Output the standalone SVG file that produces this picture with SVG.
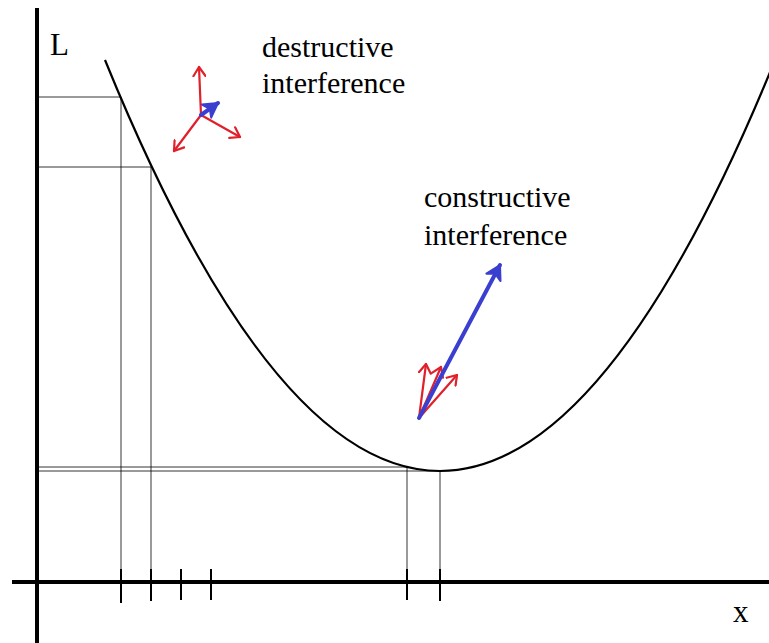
<svg xmlns="http://www.w3.org/2000/svg" width="769" height="643" viewBox="0 0 769 643">
<style>
.axis{stroke:#000;stroke-width:4;fill:none}
.tick{stroke:#000;stroke-width:2;fill:none}
.thin{stroke:#000;stroke-width:0.8;fill:none}
.curve{stroke:#000;stroke-width:2.2;fill:none}
.red{stroke:#e0202a;stroke-width:2.2;fill:none;stroke-linecap:round}
.blue{stroke:#3b3fcf;stroke-width:4;fill:none;stroke-linecap:round}
.lbl{font-family:"Liberation Serif","Times New Roman","DejaVu Serif",serif;fill:#000}
</style>
<defs>
<marker id="rh" markerWidth="14" markerHeight="14" refX="10" refY="7" orient="auto" markerUnits="userSpaceOnUse" viewBox="0 0 14 14">
<path d="M1,1 L10,7 L1,13" fill="none" stroke="#e0202a" stroke-width="2.2" stroke-linecap="round" stroke-linejoin="round"/>
</marker>
<marker id="bh" markerWidth="22" markerHeight="22" refX="16" refY="11" orient="auto" markerUnits="userSpaceOnUse" viewBox="0 0 22 22">
<path d="M2,3 L16,11 L2,19 L6,11 Z" fill="#3b3fcf" stroke="#3b3fcf" stroke-width="2" stroke-linejoin="round"/>
</marker>
</defs>
<g id="axes">
<line class="axis" x1="37" y1="8" x2="37" y2="643"/>
<line class="axis" x1="12" y1="582" x2="769" y2="582"/>
</g>
<g id="ticks">
<line class="tick" x1="121" y1="569" x2="121" y2="603"/>
<line class="tick" x1="151" y1="569" x2="151" y2="601"/>
<line class="tick" x1="181" y1="569" x2="181" y2="600"/>
<line class="tick" x1="211" y1="569" x2="211" y2="600"/>
<line class="tick" x1="407" y1="569" x2="407" y2="600"/>
<line class="tick" x1="440" y1="569" x2="440" y2="601"/>
</g>
<g id="guides">
<polyline class="thin" points="37,97 121,97 121,582"/>
<polyline class="thin" points="37,167 151,167 151,582"/>
<polyline class="thin" points="37,467 407,467 407,582"/>
<polyline class="thin" points="37,471 440,471 440,582"/>
</g>
<g id="curve">
<path class="curve" d="M105,60 Q440,882 775,60"/>
</g>
<g id="labels">
<text class="lbl" x="50" y="55" font-size="31">L</text>
<text class="lbl" x="733" y="622" font-size="31">x</text>
<text class="lbl" x="262" y="57" font-size="30">destructive</text>
<text class="lbl" x="262" y="93" font-size="30">interference</text>
<text class="lbl" x="424" y="207" font-size="30">constructive</text>
<text class="lbl" x="424" y="245" font-size="30">interference</text>
</g>
<g id="destructive-vectors">
<line class="red" x1="201" y1="115" x2="199" y2="67" marker-end="url(#rh)"/>
<line class="red" x1="201" y1="115" x2="174" y2="151" marker-end="url(#rh)"/>
<line class="red" x1="201" y1="115" x2="240" y2="137" marker-end="url(#rh)"/>
<line class="blue" x1="201" y1="115" x2="218" y2="103" marker-end="url(#bh)"/>
</g>
<g id="constructive-vectors">
<line class="red" x1="419" y1="418" x2="426" y2="364" marker-end="url(#rh)"/>
<line class="red" x1="419" y1="418" x2="441" y2="367" marker-end="url(#rh)"/>
<line class="red" x1="419" y1="418" x2="457" y2="375" marker-end="url(#rh)"/>
<line class="blue" x1="419" y1="418" x2="500" y2="265" marker-end="url(#bh)"/>
</g>
</svg>
